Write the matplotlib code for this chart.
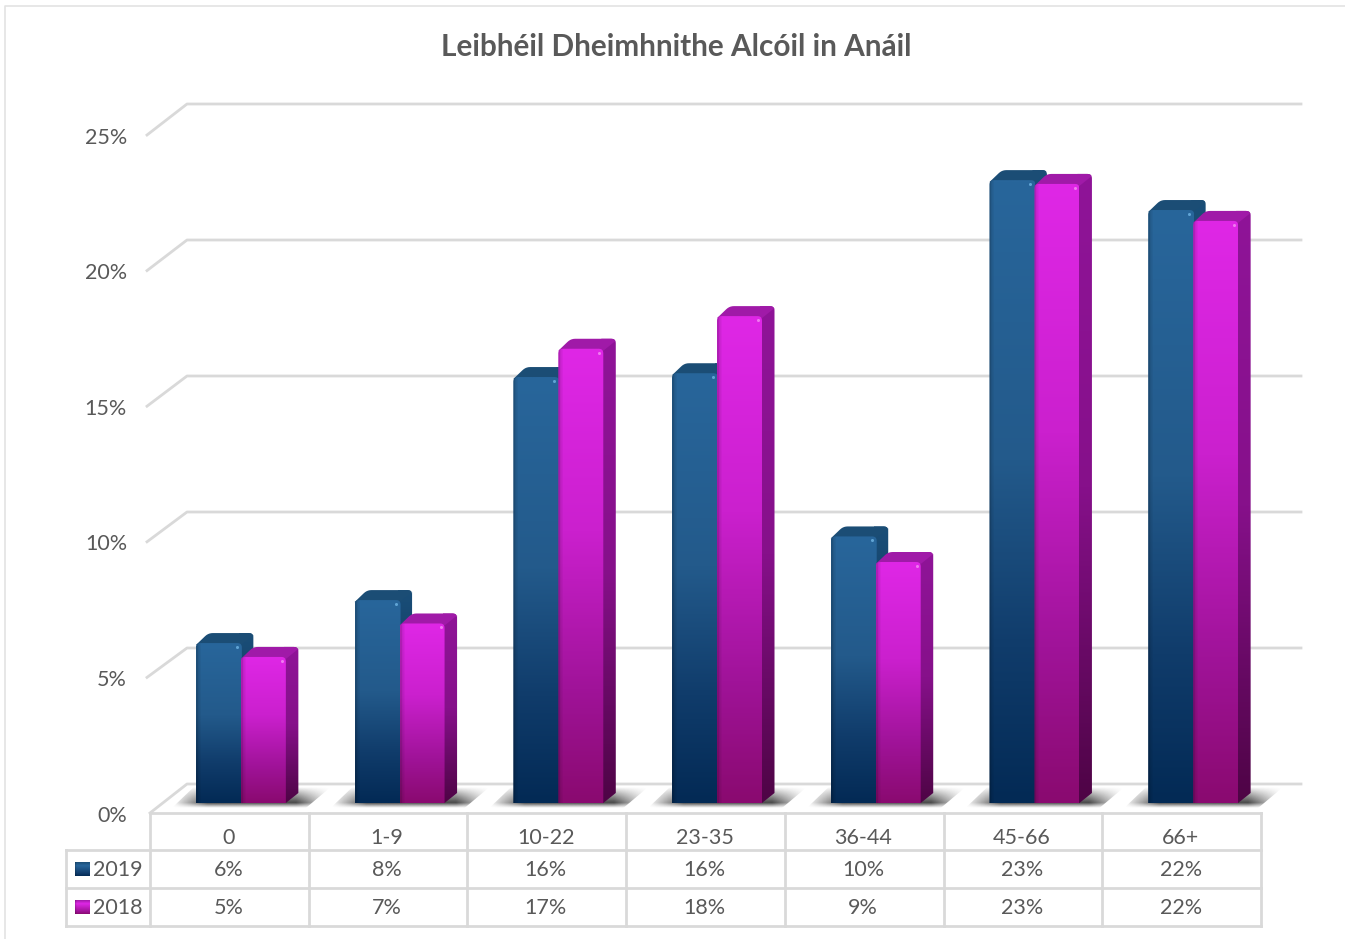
import numpy as np
import matplotlib
matplotlib.use('Agg')
import matplotlib.pyplot as plt
from matplotlib.colors import LinearSegmentedColormap
from matplotlib.patches import Polygon

plt.rcParams['font.family'] = ['Lato', 'DejaVu Sans']

title = 'Leibhéil Dheimhnithe Alcóil in Anáil'
categories = ['0', '1-9', '10-22', '23-35', '36-44', '45-66', '66+']
values_2019 = [5.88, 7.46, 15.66, 15.8, 9.8, 22.9, 21.8]
values_2018 = [5.37, 6.6, 16.7, 17.9, 8.86, 22.76, 21.4]
labels_2019 = ['6%', '8%', '16%', '16%', '10%', '23%', '22%']
labels_2018 = ['5%', '7%', '17%', '18%', '9%', '23%', '22%']
y_ticks = [0, 5, 10, 15, 20, 25]

W, H = 1345, 939
GRID = '#D9D9D9'
TEXT = '#595959'

# pixel geometry of the fake 3D plot
LEFT, RIGHT = 150, 1261
CAT_W = (RIGHT - LEFT) / 7
BASE = 803       # bottom of bars
PX_PER_PCT = 27.2
BAR_W = 45.0
BAR_SHIFT = 11.5  # pair sits right of category centre
DX, DY = 12.5, 10  # depth of a bar

fig = plt.figure(figsize=(W / 100, H / 100), dpi=100)

# overlay in pixels for frame, grid and table
pax = fig.add_axes([0, 0, 1, 1], zorder=0)
pax.set_xlim(0, W)
pax.set_ylim(H, 0)
pax.axis('off')

# data axes for the bars, categories on x and percent on y
ax = fig.add_axes([0, 0, 1, 1], zorder=1)
ax.patch.set_alpha(0)
ax.axis('off')
xlim = (-0.5 - LEFT / CAT_W, -0.5 + (W - LEFT) / CAT_W)
ylim = ((BASE - H) / PX_PER_PCT, BASE / PX_PER_PCT)
ux = 1 / CAT_W       # one pixel in x data units
uy = 1 / PX_PER_PCT  # one pixel in y data units

# frame
pax.plot([5, 5, W], [H, 6, 6], color='#E3E3E3', lw=1.2)

# gridlines and y labels
for t in y_ticks:
    fy = 813 - 27.12 * t
    by = 784 - 27.2 * t
    pax.plot([147 if t else 150, 187, 1301], [fy, by, by], color=GRID, lw=2)
    pax.text(127, fy + 2.5, f'{t}%', ha='right', va='center', color=TEXT, fontsize=15.5)


def vertical_rgb(stops, n=200, edge=True):
    rgb = LinearSegmentedColormap.from_list('g', stops)(np.linspace(0, 1, n))[:, :3]
    rgb = np.repeat(rgb[:, None, :], 40, axis=1)
    if edge:
        prof = np.ones(40)
        prof[:2] = 0.8
        prof[2:4] = 0.93
        rgb = rgb * prof[None, :, None]
    return rgb


def gradient_poly(a, pts, rgb, z):
    xs, ys = zip(*pts)
    patch = Polygon(pts, closed=True, fc='none', ec='none', transform=a.transData)
    a.add_patch(patch)
    im = a.imshow(rgb, extent=(min(xs), max(xs), min(ys), max(ys)), origin='upper',
                  aspect='auto', interpolation='bilinear', zorder=z)
    im.set_clip_path(patch)


def round_corner(prev, p, nxt, r=4.5):
    # quadratic corner, r given in pixels and worked out in pixel space
    p0, pc, p1 = [np.array([q[0] / ux, q[1] / uy]) for q in (prev, p, nxt)]
    a = pc + (p0 - pc) / np.linalg.norm(p0 - pc) * r
    b = pc + (p1 - pc) / np.linalg.norm(p1 - pc) * r
    out = []
    for s in np.linspace(0, 1, 6):
        q = (1 - s) ** 2 * a + 2 * s * (1 - s) * pc + s ** 2 * b
        out.append((q[0] * ux, q[1] * uy))
    return out


def rounded(pts, corners):
    n = len(pts)
    out = []
    for k, p in enumerate(pts):
        if k in corners:
            out += round_corner(pts[k - 1], p, pts[(k + 1) % n])
        else:
            out.append(p)
    return out


def bar3d(x0, v, styles, z, extra=0):
    x1 = x0 + BAR_W * ux
    dx, dy = DX * ux, DY * uy
    # side
    side = [(x1 - 2 * ux, 0), (x1, 0), (x1 + dx, dy), (x1 + dx, v + dy), (x1 - 2 * ux, v + dy)]
    gradient_poly(ax, rounded(side, [3]), vertical_rgb(styles['side'], edge=False), z)
    # top
    top = [(x0, v - 2 * uy), (x0 + dx, v + dy), (x1 + dx, v + dy), (x1 + dx, v + dy - 2 * uy), (x1, v - 2 * uy)]
    ax.add_patch(Polygon(rounded(top, [1, 2]), closed=True, fc=styles['top'], ec='none', zorder=z + 0.1))
    # front, a touch wider when the next bar overlaps it
    front = [(x0, 0), (x0, v), (x1 + extra * ux, v), (x1 + extra * ux, 0)]
    gradient_poly(ax, rounded(front, [1, 2]), vertical_rgb(styles['front']), z + 0.2)
    ax.plot([x1 - 4 * ux], [v - 4 * uy], 'o', ms=2.2, color=styles['spot'], mec='none', alpha=0.8, zorder=z + 0.3)


blue = {'front': [(0, '#28669B'), (0.45, '#235A8B'), (0.75, '#103C6B'), (1, '#032A55')],
        'side': [(0, '#1A4E78'), (1, '#06274A')], 'top': '#1B4D75', 'spot': '#6FB4E4'}
magenta = {'front': [(0, '#DF27E6'), (0.4, '#CB20CE'), (0.75, '#A01399'), (1, '#8A0A70')],
           'side': [(0, '#8F1498'), (0.5, '#86108A'), (1, '#4E0445')], 'top': '#A01AA8', 'spot': '#F590F4'}

# floor shadows
sh = np.zeros((60, 200, 4))
gx = np.clip(np.minimum(np.linspace(0, 4.5, 200), np.linspace(4.6, 0, 200)), 0, 1)
row = np.linspace(0, 1, 60)  # 0 at far side of floor, 1 at near side
gy = np.where(row < 0.75, (row / 0.75) ** 0.9, ((1 - row) / 0.25) ** 1.1)
sh[..., 3] = 0.9 * gx[None, :] * gy[:, None]
sh[..., :3] = 0.2
for i in range(len(categories)):
    x0 = i + (BAR_SHIFT - BAR_W) * ux
    x1 = x0 + 2 * BAR_W * ux
    xa, xb = x0 - 24 * ux, x1 + 45 * ux
    ya, yb = -5 * uy, 16 * uy
    patch = Polygon([(xa, ya), (xb - 25 * ux, ya), (xb, yb), (xa + 22 * ux, yb)], closed=True,
                    fc='none', ec='none')
    ax.add_patch(patch)
    im = ax.imshow(sh, extent=(xa, xb, ya, yb), origin='upper', aspect='auto',
                   interpolation='bilinear', zorder=1)
    im.set_clip_path(patch)

for i, (a, b) in enumerate(zip(values_2019, values_2018)):
    bar3d(i + (BAR_SHIFT - BAR_W) * ux, a, blue, 2 + i, extra=1)
    bar3d(i + BAR_SHIFT * ux, b, magenta, 2.5 + i)

ax.set_xlim(xlim)
ax.set_ylim(ylim)

# data table
rows = [813, 850, 888, 926]
for r in rows:
    pax.plot([66 if r != 813 else 150, RIGHT], [r, r], color=GRID, lw=2)
pax.plot([66, 66], [850, 926], color=GRID, lw=2)
for k in range(8):
    xk = LEFT + k * CAT_W
    pax.plot([xk, xk], [813, 926], color=GRID, lw=2)
for k, c in enumerate(categories):
    xc = LEFT + (k + 0.5) * CAT_W - 1
    pax.text(xc, 838, c, ha='center', va='center', color=TEXT, fontsize=15.5)
    pax.text(xc, 870.5, labels_2019[k], ha='center', va='center', color=TEXT, fontsize=15.5)
    pax.text(xc, 908.5, labels_2018[k], ha='center', va='center', color=TEXT, fontsize=15.5)
pax.text(93.5, 869.5, '2019', ha='left', va='center', color=TEXT, fontsize=15.5)
pax.text(93.5, 907.5, '2018', ha='left', va='center', color=TEXT, fontsize=15.5)

# legend keys
for yc, st in [(869, blue), (907, magenta)]:
    pax.imshow(vertical_rgb([(0, st['top']), (0.25, st['front'][0][1]), (0.8, st['front'][2][1]), (1, st['front'][3][1])]),
               extent=(74.5, 89, yc + 7, yc - 7), aspect='auto', interpolation='bilinear', zorder=3)
pax.set_xlim(0, W)
pax.set_ylim(H, 0)

pax.text(676.5, 47.5, title, ha='center', va='center', color=TEXT, fontsize=21.4, fontweight='bold')

fig.savefig('out.png', dpi=100)
